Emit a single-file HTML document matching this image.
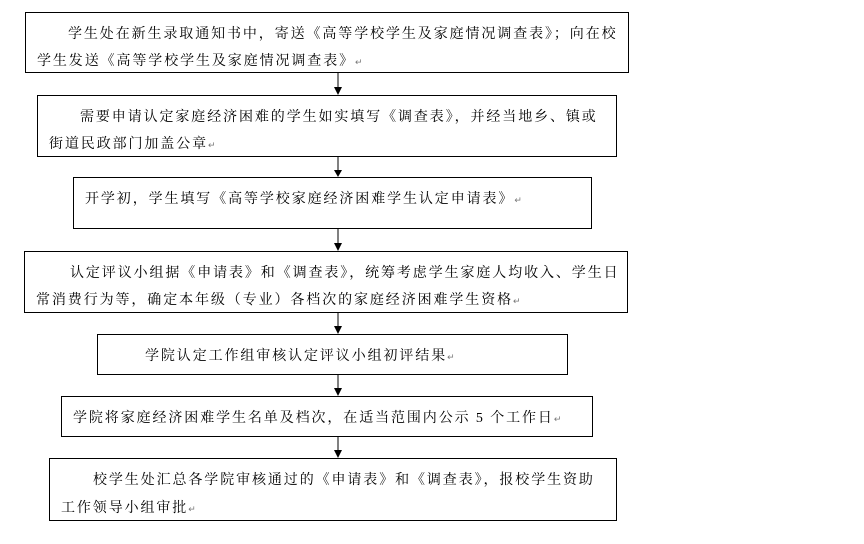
<!DOCTYPE html>
<html><head><meta charset="utf-8"><style>
body{margin:0;background:#fff;width:864px;height:544px;position:relative;overflow:hidden}
.b{position:absolute;border:1px solid #000;box-sizing:border-box;font-family:"Liberation Serif","Noto Serif CJK SC","Noto Sans CJK SC",serif;font-size:14px;letter-spacing:1.9px;line-height:27px;color:#000;white-space:nowrap;padding:8px 0 0 11px}
.r{font-size:9px;color:#777;letter-spacing:0}
.i{padding-left:44px;display:inline-block}
</style></head><body>
<svg width="864" height="544" style="position:absolute;left:0;top:0">
<g stroke="#000" stroke-width="1">
<line x1="338" y1="73" x2="338" y2="88"/><line x1="338" y1="156" x2="338" y2="171"/><line x1="338" y1="229" x2="338" y2="244"/><line x1="338" y1="312" x2="338" y2="327"/><line x1="338" y1="375" x2="338" y2="389"/><line x1="338" y1="437" x2="338" y2="451"/>
</g>
<g fill="#000">
<polygon points="334,87 342,87 338,95"/><polygon points="334,170 342,170 338,177"/><polygon points="334,243 342,243 338,251"/><polygon points="334,326 342,326 338,334"/><polygon points="334,388 342,388 338,396"/><polygon points="334,450 342,450 338,458"/>
</g></svg>
<div class="b" style="left:25px;top:12px;width:604px;height:61px"><span style="padding-left:31px">学生处在新生录取通知书中，寄送《高等学校学生及家庭情况调查表》；向在校</span><br>学生发送《高等学校学生及家庭情况调查表》<span class="r">↵</span></div>
<div class="b" style="left:37px;top:95px;width:580px;height:62px"><span style="padding-left:31px">需要申请认定家庭经济困难的学生如实填写《调查表》，并经当地乡、镇或</span><br>街道民政部门加盖公章<span class="r">↵</span></div>
<div class="b" style="left:73px;top:177px;width:519px;height:52px">开学初，学生填写《高等学校家庭经济困难学生认定申请表》<span class="r">↵</span></div>
<div class="b" style="left:24px;top:251px;width:604px;height:62px"><span style="padding-left:34px">认定评议小组据《申请表》和《调查表》，统筹考虑学生家庭人均收入、学生日</span><br>常消费行为等，确定本年级（专业）各档次的家庭经济困难学生资格<span class="r">↵</span></div>
<div class="b" style="left:97px;top:334px;width:471px;height:41px"><span style="padding-left:36px">学院认定工作组审核认定评议小组初评结果</span><span class="r">↵</span></div>
<div class="b" style="left:61px;top:396px;width:532px;height:41px">学院将家庭经济困难学生名单及档次，在适当范围内公示 5 个工作日<span class="r">↵</span></div>
<div class="b" style="left:49px;top:458px;width:568px;height:63px;line-height:28px"><span style="padding-left:32px">校学生处汇总各学院审核通过的《申请表》和《调查表》，报校学生资助</span><br>工作领导小组审批<span class="r">↵</span></div>
</body></html>
